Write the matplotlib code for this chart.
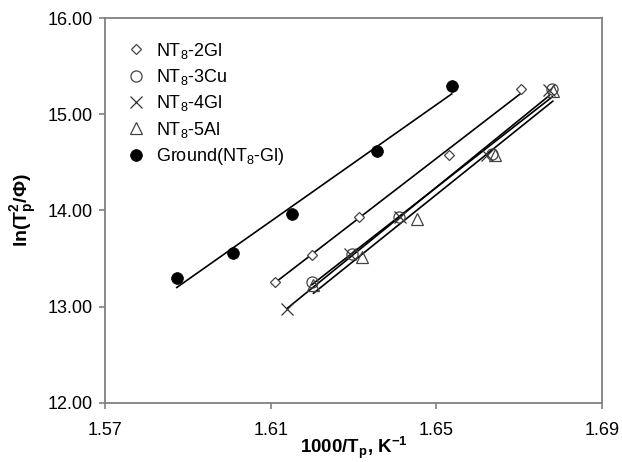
import matplotlib
matplotlib.use("Agg")
import matplotlib.pyplot as plt
import numpy as np

plt.rcParams["font.family"] = ["Liberation Sans", "DejaVu Sans"]
plt.rcParams["mathtext.fontset"] = "custom"
plt.rcParams["mathtext.rm"] = "Liberation Sans"
plt.rcParams["mathtext.it"] = "Liberation Sans"
plt.rcParams["mathtext.bf"] = "Liberation Sans:bold"

# values
x_2gl = [1.6109, 1.6199, 1.6313, 1.6531, 1.6704]
y_2gl = [13.26, 13.54, 13.93, 14.58, 15.26]
x_3cu = [1.6199, 1.6296, 1.6410, 1.6634, 1.6780]
y_3cu = [13.26, 13.55, 13.93, 14.59, 15.26]
x_4gl = [1.6140, 1.6292, 1.6412, 1.6621, 1.6772]
y_4gl = [12.98, 13.55, 13.93, 14.58, 15.25]
x_5al = [1.6203, 1.6320, 1.6454, 1.6642, 1.6781]
y_5al = [13.23, 13.52, 13.91, 14.58, 15.24]
x_gnd = [1.5873, 1.6009, 1.6151, 1.6357, 1.6537]
y_gnd = [13.30, 13.56, 13.96, 14.62, 15.29]

labels = [r"NT$_8$-2Gl", r"NT$_8$-3Cu", r"NT$_8$-4Gl", r"NT$_8$-5Al", r"Ground(NT$_8$-Gl)"]
x_ticks = [1.57, 1.61, 1.65, 1.69]
y_ticks = [12.0, 13.0, 14.0, 15.0, 16.0]

series = [
    (x_2gl, y_2gl, dict(marker="D", ms=5.5, mfc="white", mec="#444444", mew=0.9)),
    (x_3cu, y_3cu, dict(marker="o", ms=8, mfc="none", mec="#444444", mew=0.9)),
    (x_4gl, y_4gl, dict(marker="x", ms=8, mec="#333333", mew=0.9)),
    (x_5al, y_5al, dict(marker="^", ms=8.5, mfc="none", mec="#444444", mew=0.9)),
    (x_gnd, y_gnd, dict(marker="o", ms=8.5, mfc="black", mec="black", mew=0.5)),
]

fig = plt.figure(figsize=(6.22, 4.62), dpi=100)
ax = fig.add_axes([0.169, 0.128, 0.799, 0.833])

for (xs, ys, style), label in zip(series, labels):
    xs = np.array(xs)
    k, b = np.polyfit(xs, ys, 1)
    xl = np.array([xs.min(), xs.max()])
    ax.plot(xl, k * xl + b, color="black", lw=1.2, zorder=2)
    ax.plot(xs, ys, ls="none", label=label, zorder=3, **style)

ax.set_xlim(1.57, 1.69)
ax.set_ylim(12.0, 16.0)
ax.set_xticks(x_ticks)
ax.set_xticklabels(["%.2f" % v for v in x_ticks])
ax.set_yticks(y_ticks)
ax.set_yticklabels(["%.2f" % v for v in y_ticks])
ax.tick_params(direction="out", length=4, width=1.2, color="#808080", labelsize=13)
ax.tick_params(axis="x", pad=10)
ax.tick_params(axis="y", pad=5)
for sp in ax.spines.values():
    sp.set_color("#808080")
    sp.set_linewidth(1.3)

ax.set_xlabel(r"1000/T$_\mathbf{p}$, K$^\mathbf{-1}$", fontsize=13.5, fontweight="bold", labelpad=-3)
ax.set_ylabel(r"ln(T$_\mathbf{p}^\mathbf{2}$/Φ)", fontsize=14, fontweight="bold", labelpad=6)

ax.legend(loc="upper left", bbox_to_anchor=(0.03, 0.96), frameon=False, fontsize=13,
          numpoints=1, handlelength=1.0, handletextpad=0.6, labelspacing=0.35, borderaxespad=0)

fig.savefig("out.png", dpi=100)
